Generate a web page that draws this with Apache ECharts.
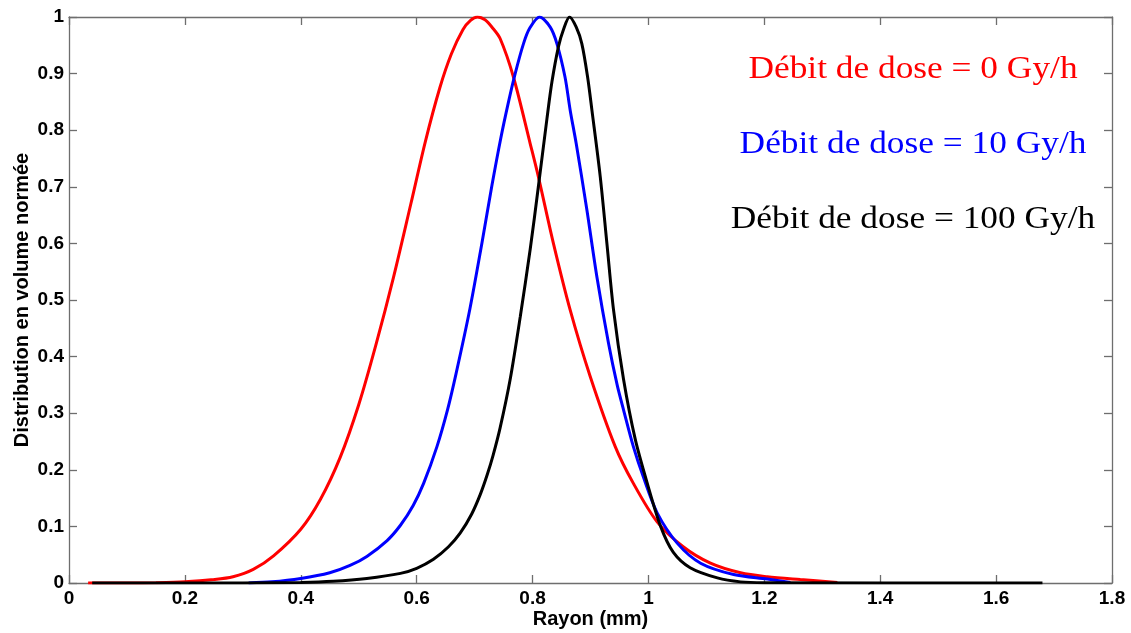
<!DOCTYPE html>
<html>
<head>
<meta charset="utf-8">
<script src="https://cdn.jsdelivr.net/npm/echarts@6/dist/echarts.min.js"></script>
<style>html,body{margin:0;padding:0;background:#fff}#c{width:1131px;height:633px}</style>
</head>
<body>
<div id="c"></div>
<script>
// Rayon (mm) / normalised volume distribution
const red0 = [[0.033,0],[0.1,0],[0.15,0.0005],[0.2,0.002],[0.25,0.006],[0.283,0.011],[0.318,0.024],[0.353,0.048],[0.4,0.095],[0.434,0.148],[0.468,0.222],[0.5,0.315],[0.53,0.422],[0.56,0.54],[0.59,0.67],[0.615,0.78],[0.64,0.875],[0.66,0.935],[0.68,0.978],[0.693,0.994],[0.705,1.0],[0.718,0.995],[0.73,0.982],[0.744,0.962],[0.767,0.894],[0.796,0.776],[0.81,0.718],[0.836,0.6],[0.865,0.482],[0.8995,0.365],[0.9427,0.241],[0.974,0.176],[1.015,0.108],[1.06,0.064],[1.107,0.035],[1.159,0.018],[1.205,0.011],[1.262,0.006],[1.326,0.001]];
const blue10 = [[0.31,0],[0.35,0.002],[0.4,0.008],[0.45,0.018],[0.485,0.031],[0.514,0.047],[0.549,0.075],[0.572,0.102],[0.594,0.137],[0.612,0.176],[0.635,0.241],[0.653,0.305],[0.668,0.37],[0.692,0.485],[0.7125,0.6],[0.73,0.703],[0.745,0.785],[0.7585,0.85],[0.77,0.9],[0.7844,0.953],[0.795,0.98],[0.812,1.0],[0.8305,0.982],[0.842,0.953],[0.856,0.894],[0.865,0.835],[0.8754,0.776],[0.8938,0.659],[0.911,0.541],[0.931,0.424],[0.946,0.35],[0.957,0.306],[0.974,0.241],[0.991,0.188],[1.015,0.124],[1.05,0.07],[1.09,0.035],[1.147,0.015],[1.205,0.007],[1.245,0.001]];
const black100 = [[0.04,0],[0.3,0],[0.4,0.001],[0.456,0.003],[0.514,0.008],[0.572,0.017],[0.6,0.026],[0.629,0.042],[0.655,0.064],[0.675,0.088],[0.695,0.122],[0.71,0.157],[0.722,0.192],[0.732,0.226],[0.744,0.274],[0.7614,0.36],[0.7787,0.47],[0.796,0.59],[0.81,0.7],[0.8248,0.82],[0.8334,0.885],[0.8448,0.948],[0.8534,0.978],[0.8638,1.0],[0.8754,0.982],[0.885,0.953],[0.895,0.894],[0.9025,0.835],[0.9168,0.718],[0.9283,0.6],[0.9398,0.482],[0.957,0.36],[0.977,0.255],[0.998,0.176],[1.021,0.1],[1.043,0.054],[1.072,0.027],[1.119,0.009],[1.159,0.002],[1.2,0.0005],[1.68,0]];
const seriesNames = ['Débit de dose = 0 Gy/h','Débit de dose = 10 Gy/h','Débit de dose = 100 Gy/h'];
const seriesColors = ['#ff0000','#0000ff','#000000'];
const xTitle = 'Rayon (mm)';
const yTitle = 'Distribution en volume normée';

const chart = echarts.init(document.getElementById('c'), null, {renderer:'canvas'});
const lbl = {fontFamily:'Liberation Sans', fontWeight:'bold', fontSize:19, color:'#000'};
const ttl = {fontFamily:'Liberation Sans', fontWeight:'bold', fontSize:20, color:'#000'};
const axLine = {show:true, onZero:false, lineStyle:{color:'#6e6e6e', width:1.3}};
const tick = {show:true, inside:true, length:8, lineStyle:{color:'#6e6e6e', width:1.3}};
const datasets = [red0, blue10, black100];
chart.setOption({
  animation:false,
  backgroundColor:'#fff',
  grid:{left:69, top:17, right:19, bottom:50, containLabel:false, outerBoundsMode:'none'},
  xAxis:[
    {type:'value', min:0, max:1.8, interval:0.2, position:'bottom', axisLine:axLine, axisTick:tick,
     axisLabel:Object.assign({margin:6}, lbl), splitLine:{show:false},
     name:xTitle, nameLocation:'middle', nameGap:26, nameMoveOverlap:false, nameTextStyle:ttl},
    {type:'value', min:0, max:1.8, interval:0.2, position:'top', axisLine:axLine, axisTick:tick,
     axisLabel:{show:false}, splitLine:{show:false}}
  ],
  yAxis:[
    {type:'value', min:0, max:1, interval:0.1, position:'left', axisLine:axLine, axisTick:tick,
     axisLabel:Object.assign({margin:5}, lbl), splitLine:{show:false},
     name:yTitle, nameLocation:'middle', nameGap:37, nameMoveOverlap:false, nameTextStyle:ttl},
    {type:'value', min:0, max:1, interval:0.1, position:'right', axisLine:axLine, axisTick:tick,
     axisLabel:{show:false}, splitLine:{show:false}}
  ],
  series: datasets.map((d,i)=>({
    type:'line', name:seriesNames[i], data:d, xAxisIndex:0, yAxisIndex:0,
    showSymbol:false, smooth:0.3, lineStyle:{color:seriesColors[i], width:3},
    itemStyle:{color:seriesColors[i]}, z:3+i
  })),
  graphic: seriesNames.map((t,i)=>({
    type:'text',
    x:913, y:[70,145,220][i], scaleX:1.14,
    style:{text:t, fill:seriesColors[i], font:'31px "Liberation Serif"',
      textAlign:'center', textVerticalAlign:'middle'}
  }))
});
</script>
</body>
</html>
